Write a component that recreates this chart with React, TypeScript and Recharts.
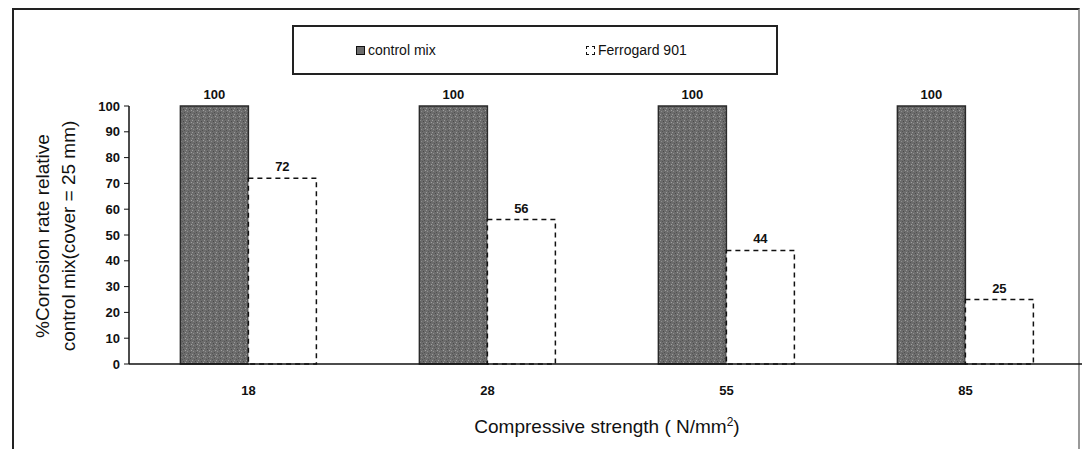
import * as React from 'react';
import { BarChart, Bar, XAxis, YAxis, LabelList } from 'recharts';

const categories = ['18', '28', '55', '85'];
const controlMix = [100, 100, 100, 100];
const ferrogard = [72, 56, 44, 25];
const seriesNames = ['control mix', 'Ferrogard 901'];
const yTicks = [0, 10, 20, 30, 40, 50, 60, 70, 80, 90, 100];

const data = categories.map((c, i) => ({
    name: c,
    control: controlMix[i],
    ferro: ferrogard[i],
}));

const FONT = '"Liberation Sans", Arial, sans-serif';

const YTitle = (props: any) => {
    const vb = props.viewBox || {};
    const cy = vb.y + vb.height / 2 + 1;
    return (
        <g>
            <text x={42} y={cy} transform={`rotate(-90 42 ${cy})`} textAnchor="middle" dominantBaseline="central" fontSize={19} fill="#111" fontFamily={FONT}>
                %Corrosion rate relative
            </text>
            <text x={68} y={cy} transform={`rotate(-90 68 ${cy})`} textAnchor="middle" dominantBaseline="central" fontSize={19} fill="#111" fontFamily={FONT}>
                control mix(cover = 25 mm)
            </text>
        </g>
    );
};

const XTitle = (props: any) => {
    const vb = props.viewBox || {};
    const cx = vb.x + vb.width / 2;
    return (
        <text x={cx} y={433} textAnchor="middle" fontSize={19} fill="#111" fontFamily={FONT}>
            Compressive strength ( N/mm<tspan dy={-7} fontSize={12}>2</tspan><tspan dy={7}>)</tspan>
        </text>
    );
};

const App: React.FC = () => {
    return (
        <div style={{ position: 'relative', width: 1082, height: 449, overflow: 'hidden', background: '#fff' }}>
            <style>{`body{margin:0;overflow:hidden}`}</style>
            <div style={{ position: 'absolute', left: 12, top: 8, width: 1064, height: 460, borderLeft: '2px solid #222', borderTop: '2px solid #222', borderRight: '2px solid #999' }} />
            <div style={{ position: 'absolute', left: 0, top: 0 }}>
                <BarChart width={1100} height={449} data={data} margin={{ top: 106, right: 15, bottom: 55, left: 69 }} barCategoryGap="21.5%" barGap={0}>
                    <defs>
                        <pattern id="speckle" width="6" height="6" patternUnits="userSpaceOnUse">
                            <rect width="6" height="6" fill="#6c6c6c" />
                            <rect x="0" y="0" width="1" height="1" fill="#9a9a9a" />
                            <rect x="3" y="1" width="1" height="1" fill="#4a4a4a" />
                            <rect x="1" y="3" width="1" height="1" fill="#8e8e8e" />
                            <rect x="4" y="4" width="1" height="1" fill="#505050" />
                            <rect x="5" y="2" width="1" height="1" fill="#a0a0a0" />
                            <rect x="2" y="5" width="1" height="1" fill="#555" />
                        </pattern>
                    </defs>
                    <XAxis dataKey="name" height={30} tickLine={false} tickSize={0} tickMargin={22} axisLine={{ stroke: '#111', strokeWidth: 1.5 }}
                        tick={{ fontSize: 13, fill: '#111', fontFamily: FONT, fontWeight: 'bold' }} label={<XTitle />} />
                    <YAxis width={60} domain={[0, 100]} ticks={yTicks} interval={0} tickSize={5} tickMargin={4}
                        axisLine={{ stroke: '#111', strokeWidth: 1.5 }} tickLine={{ stroke: '#111' }}
                        tick={{ fontSize: 13, fill: '#111', fontFamily: FONT, fontWeight: 'bold' }} label={<YTitle />} />
                    <Bar dataKey="control" name={seriesNames[0]} fill="url(#speckle)" stroke="#2a2a2a" strokeWidth={1.5} isAnimationActive={false}>
                        <LabelList dataKey="control" position="top" offset={7} style={{ fontSize: 13, fill: '#111', fontFamily: FONT, fontWeight: 'bold' }} />
                    </Bar>
                    <Bar dataKey="ferro" name={seriesNames[1]} fill="#fff" stroke="#111" strokeWidth={1.5} strokeDasharray="5 4" isAnimationActive={false}>
                        <LabelList dataKey="ferro" position="top" offset={7} style={{ fontSize: 13, fill: '#111', fontFamily: FONT, fontWeight: 'bold' }} />
                    </Bar>
                </BarChart>
            </div>
            <div style={{ position: 'absolute', left: 292, top: 25, width: 482, height: 46, border: '2px solid #222', background: '#fff', fontFamily: FONT, fontSize: 14, color: '#111' }}>
                <span style={{ position: 'absolute', left: 62, top: 15, display: 'flex', alignItems: 'center' }}>
                    <span style={{ display: 'inline-block', width: 7, height: 7, border: '1px solid #111', background: '#6c6c6c', marginRight: 3 }} />
                    {seriesNames[0]}
                </span>
                <span style={{ position: 'absolute', left: 292, top: 15, display: 'flex', alignItems: 'center' }}>
                    <span style={{ display: 'inline-block', width: 7, height: 7, border: '1px dashed #111', background: '#fff', marginRight: 3 }} />
                    {seriesNames[1]}
                </span>
            </div>
        </div>
    );
};

export default App;
